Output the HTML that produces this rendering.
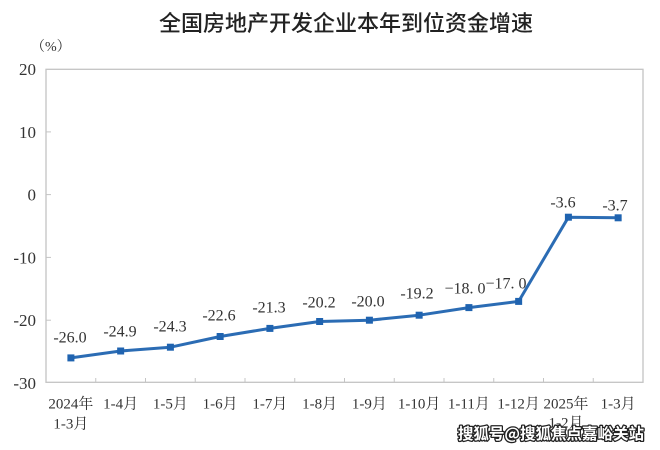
<!DOCTYPE html>
<html><head><meta charset="utf-8"><style>
html,body{margin:0;padding:0;background:#fff;}
svg{display:block;}
.t{font-family:"Liberation Serif","Noto Serif CJK SC",serif;fill:#333;}
</style></head><body>
<svg width="660" height="450" viewBox="0 0 660 450" xmlns="http://www.w3.org/2000/svg">
<rect width="660" height="450" fill="#fff"/>
<text x="346" y="31" text-anchor="middle" font-family="'Liberation Sans','Noto Sans CJK SC',sans-serif" font-size="22" font-weight="500" fill="#222">全国房地产开发企业本年到位资金增速</text>
<text class="t" x="31" y="51" font-size="14">（%）</text>
<!-- frame -->
<rect x="46" y="69.3" width="597" height="313" fill="none" stroke="#c4c4c4" stroke-width="1.3"/>
<!-- y ticks -->
<g stroke="#c4c4c4" stroke-width="1">
<line x1="46" y1="131.9" x2="51" y2="131.9"/>
<line x1="46" y1="194.6" x2="51" y2="194.6"/>
<line x1="46" y1="257.4" x2="51" y2="257.4"/>
<line x1="46" y1="320.2" x2="51" y2="320.2"/>
</g>
<!-- x ticks -->
<g stroke="#c4c4c4" stroke-width="1">
<line x1="95.75" y1="382.3" x2="95.75" y2="378"/>
<line x1="145.5" y1="382.3" x2="145.5" y2="378"/>
<line x1="195.25" y1="382.3" x2="195.25" y2="378"/>
<line x1="245" y1="382.3" x2="245" y2="378"/>
<line x1="294.75" y1="382.3" x2="294.75" y2="378"/>
<line x1="344.5" y1="382.3" x2="344.5" y2="378"/>
<line x1="394.25" y1="382.3" x2="394.25" y2="378"/>
<line x1="444" y1="382.3" x2="444" y2="378"/>
<line x1="493.75" y1="382.3" x2="493.75" y2="378"/>
<line x1="543.5" y1="382.3" x2="543.5" y2="378"/>
<line x1="593.25" y1="382.3" x2="593.25" y2="378"/>
</g>
<!-- y labels -->
<g class="t" font-size="17" text-anchor="end">
<text x="36" y="75">20</text>
<text x="36" y="138">10</text>
<text x="36" y="200.5">0</text>
<text x="36" y="263.5">-10</text>
<text x="36" y="326">-20</text>
<text x="36" y="389">-30</text>
</g>
<!-- series -->
<polyline fill="none" stroke="#2b6cb4" stroke-width="3" stroke-linejoin="round"
 points="70.9,357.9 120.65,351 170.4,347.2 220.15,336.5 269.9,328.4 319.65,321.5 369.4,320.2 419.15,315.2 468.9,307.6 518.65,301.4 568.4,217.2 618.15,217.8"/>
<g fill="#1f63b0">
<rect x="67.4" y="354.4" width="7" height="7"/>
<rect x="117.15" y="347.5" width="7" height="7"/>
<rect x="166.9" y="343.7" width="7" height="7"/>
<rect x="216.65" y="333" width="7" height="7"/>
<rect x="266.4" y="324.9" width="7" height="7"/>
<rect x="316.15" y="318" width="7" height="7"/>
<rect x="365.9" y="316.7" width="7" height="7"/>
<rect x="415.65" y="311.7" width="7" height="7"/>
<rect x="465.4" y="304.1" width="7" height="7"/>
<rect x="515.15" y="297.9" width="7" height="7"/>
<rect x="564.9" y="213.7" width="7" height="7"/>
<rect x="614.65" y="214.3" width="7" height="7"/>
</g>
<!-- data labels -->
<g class="t" font-size="16" text-anchor="middle">
<text x="70" y="342.5">-26.0</text>
<text x="120" y="336.5">-24.9</text>
<text x="170" y="331.5">-24.3</text>
<text x="219" y="320.5">-22.6</text>
<text x="269" y="312.5">-21.3</text>
<text x="319" y="307.5">-20.2</text>
<text x="368" y="306.5">-20.0</text>
<text x="417" y="298.5">-19.2</text>
<text x="465" y="293.5">−18. 0</text>
<text x="506" y="288.5">−17. 0</text>
<text x="563" y="207.5">-3.6</text>
<text x="615" y="210.5">-3.7</text>
</g>
<!-- x labels -->
<g class="t" font-size="15" text-anchor="middle">
<text x="70.9" y="408.5">2024年</text>
<text x="70.9" y="428.5">1-3月</text>
<text x="120.65" y="408.5">1-4月</text>
<text x="170.4" y="408.5">1-5月</text>
<text x="220.15" y="408.5">1-6月</text>
<text x="269.9" y="408.5">1-7月</text>
<text x="319.65" y="408.5">1-8月</text>
<text x="369.4" y="408.5">1-9月</text>
<text x="419.15" y="408.5">1-10月</text>
<text x="468.9" y="408.5">1-11月</text>
<text x="518.65" y="408.5">1-12月</text>
<text x="566" y="408.5">2025年</text>
<text x="566" y="427.5">1-2月</text>
<text x="618.15" y="408.5">1-3月</text>
</g>
<!-- watermark -->
<text x="644" y="439" text-anchor="end" font-family="'Noto Sans CJK SC','WenQuanYi Zen Hei',sans-serif" font-size="15.5" font-weight="bold" fill="#fff" stroke="#222" stroke-width="2.6" paint-order="stroke" stroke-linejoin="round">搜狐号@搜狐焦点嘉峪关站</text>
</svg>
</body></html>
